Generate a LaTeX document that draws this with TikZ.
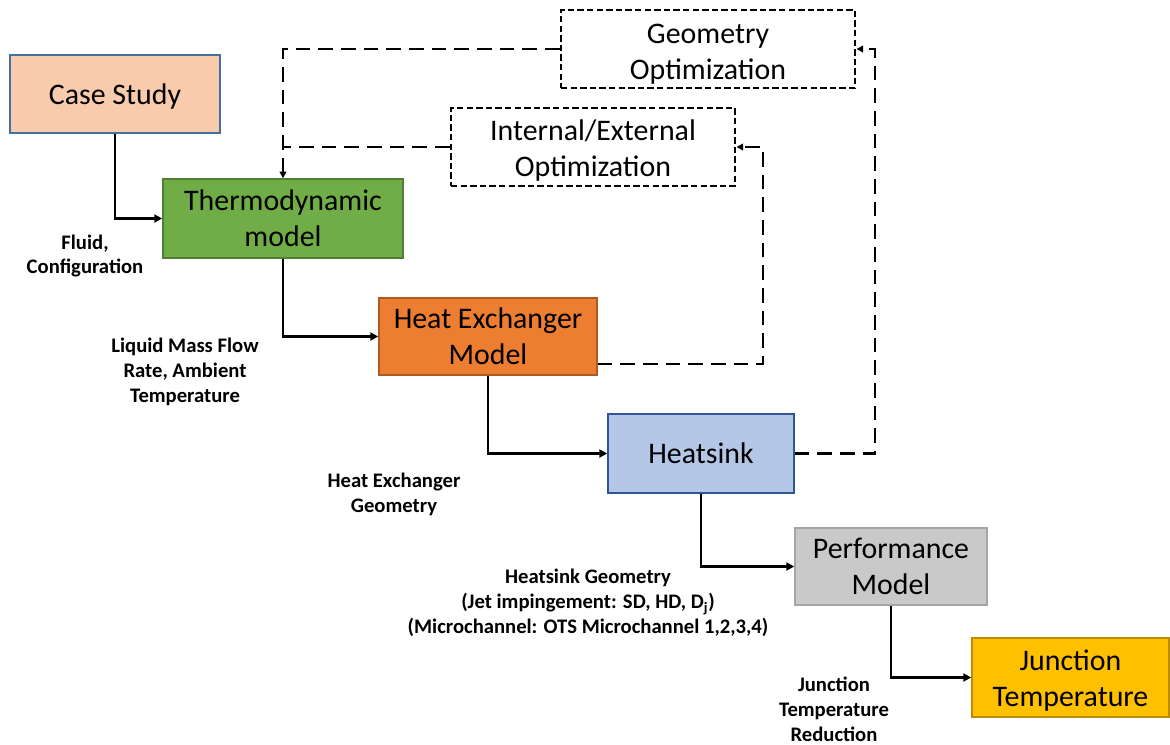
\documentclass[tikz,border=0pt]{standalone}
\usepackage{fontspec}
\setmainfont{Carlito}
\usetikzlibrary{arrows.meta,calc}
\def\u{0.75pt}
\newcommand{\dn}[1]{\rule{0pt}{#1}}
\definecolor{csfill}{HTML}{F8CBAD}\definecolor{csdraw}{HTML}{41719C}
\definecolor{thfill}{HTML}{70AD47}\definecolor{thdraw}{HTML}{507E32}
\definecolor{hxfill}{HTML}{ED7D31}\definecolor{hxdraw}{HTML}{AE5A21}
\definecolor{hsfill}{HTML}{B4C7E7}\definecolor{hsdraw}{HTML}{2F5597}
\definecolor{pffill}{HTML}{C9C9C9}\definecolor{pfdraw}{HTML}{A5A5A5}
\definecolor{jtfill}{HTML}{FFC000}\definecolor{jtdraw}{HTML}{BC8C00}
\tikzset{
  box/.style={draw, line width=1.1pt, inner sep=0pt, align=center,
    font=\fontsize{22.4}{27}\selectfont},
  optbox/.style={box, draw=black, fill=white, line width=2.2pt, dash pattern=on 4.8pt off 2.4pt},
  lbl/.style={align=center, font=\bfseries\fontsize{15.5}{18.6}\selectfont},
  flow/.style={line width=2pt, -{Triangle[length=6pt,width=6pt]}},
  fb/.style={line width=2pt, dash pattern=on 11pt off 6pt},
  fbarrow/.style={fb, -{Triangle[length=5pt,width=5pt]}}
}
\begin{document}
\begin{tikzpicture}[x=\u, y=-\u]
\useasboundingbox (0,0) rectangle (1170,744);
% boxes
\node[box, fill=csfill, draw=csdraw, minimum width={210*\u}, minimum height={78*\u}] (cs) at (115,94) {\dn{20pt}Case Study};
\node[box, fill=thfill, draw=thdraw, minimum width={240*\u}, minimum height={79*\u}] (th) at (283,218.5) {Thermodynamic\\model};
\node[box, fill=hxfill, draw=hxdraw, minimum width={218*\u}, minimum height={77*\u}] (hx) at (488,336.5) {Heat Exchanger\\Model};
\node[box, fill=hsfill, draw=hsdraw, minimum width={186*\u}, minimum height={79*\u}] (hs) at (701,453.5) {Heatsink};
\node[box, fill=pffill, draw=pfdraw, minimum width={192*\u}, minimum height={77*\u}] (pf) at (891,566.5) {Performance\\Model};
\node[box, fill=jtfill, draw=jtdraw, minimum width={197*\u}, minimum height={79*\u}] (jt) at (1070.5,677.5) {\dn{20.5pt}Junction\\Temperature};
\node[optbox, minimum width={294*\u}, minimum height={78*\u}] (go) at (708,49) {\dn{22pt}Geometry\\Optimization};
\node[optbox, minimum width={284*\u}, minimum height={78*\u}] (ie) at (593,147) {\dn{21pt}Internal/External\\Optimization};
% labels
\node[lbl] (l1) at (85,256) {Fluid,\\Configuration};
\node[lbl] (l2) at (185,372) {Liquid Mass Flow\\Rate, Ambient\\Temperature};
\node[lbl] (l3) at (394,494) {Heat Exchanger\\Geometry};
\node[lbl] (l4) at (588,603) {Heatsink Geometry\\(Jet impingement: SD, HD, D\textsubscript{j})\\(Microchannel: OTS Microchannel 1,2,3,4)};
\node[lbl] (l5) at (834,709) {Junction\\Temperature\\Reduction};
% solid flow
\draw[flow] (cs.south) |- (th.west);
\draw[flow] (th.south) |- (hx.west);
\draw[flow] (hx.south) |- (hs.west);
\draw[flow] (hs.south) |- (pf.west);
\draw[flow] (pf.south) |- (jt.west);
% feedback
\coordinate (c1) at (763,364);
\coordinate (c2) at (875,453.5);
\draw[fbarrow] (hx.east |- c1) -- (c1) |- (ie.east);
\draw[fbarrow] (hs.east) -- (c2) |- (go.east);
\draw[fbarrow] (go.west) -| (th.north);
\coordinate (j) at (th.north |- ie.west);
\draw[fb] (ie.west) -- (j);
\end{tikzpicture}
\end{document}
